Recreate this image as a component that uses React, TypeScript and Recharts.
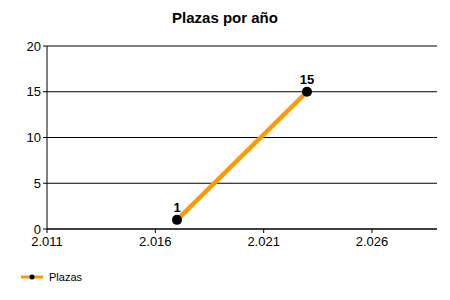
import { LineChart, Line, XAxis, YAxis, CartesianGrid, Legend, LabelList } from 'recharts';

const years = [2017, 2023];
const plazas = [1, 15];
const xTicks = [2011, 2016, 2021, 2026];
const yTicks = [0, 5, 10, 15, 20];
const seriesName = 'Plazas';
const title = 'Plazas por año';

const data = years.map((year, i) => ({ year, plazas: plazas[i] }));

const font = '"Liberation Sans", Arial, sans-serif';

// 2011 -> "2.011"
const fmtYear = (v: number) => {
  const s = String(v);
  return s.length > 3 ? s.slice(0, s.length - 3) + '.' + s.slice(-3) : s;
};

function LegendBox() {
  return (
    <div style={{ display: 'flex', alignItems: 'center', fontFamily: font, fontSize: 11, color: '#000', height: 18 }}>
      <svg width={24} height={10} style={{ marginRight: 4 }}>
        <line x1={0} y1={5} x2={22} y2={5} stroke="#FF9900" strokeWidth={3} />
        <circle cx={11} cy={5} r={2.5} fill="#000" />
      </svg>
      {seriesName}
    </div>
  );
}

export default function App() {
  return (
    <div style={{ position: 'absolute', left: 0, top: 0, width: 450, height: 300, background: '#fff' }}>
      <div
        style={{
          position: 'absolute', left: 0, top: 9, width: 450, textAlign: 'center',
          fontFamily: font, fontWeight: 'bold', fontSize: 15, color: '#000', lineHeight: '17px',
        }}
      >
        {title}
      </div>
      <LineChart width={450} height={300} data={data} margin={{ top: 46, right: 13, left: 0, bottom: 14 }}>
        <CartesianGrid vertical={false} stroke="#000" strokeWidth={1} />
        <XAxis
          dataKey="year"
          type="number"
          domain={[2011, 2029]}
          ticks={xTicks}
          tickFormatter={fmtYear}
          axisLine={{ stroke: '#000' }}
          tickLine={{ stroke: '#000' }}
          tickSize={4}
          tickMargin={4}
          tick={{ fontSize: 13, fill: '#000', fontFamily: font }}
          height={39}
        />
        <YAxis
          type="number"
          domain={[0, 20]}
          ticks={yTicks}
          axisLine={{ stroke: '#000' }}
          tickLine={{ stroke: '#000' }}
          tickSize={4}
          tick={{ fontSize: 13, fill: '#000', fontFamily: font }}
          width={47}
        />
        <Legend
          verticalAlign="bottom"
          align="left"
          content={() => <LegendBox />}
          wrapperStyle={{ left: 21 }}
        />
        <Line
          type="linear"
          dataKey="plazas"
          name={seriesName}
          stroke="#FF9900"
          strokeWidth={4.5}
          dot={{ r: 5, fill: '#000', stroke: '#000', strokeWidth: 0 }}
          activeDot={false}
          isAnimationActive={false}
        >
          <LabelList dataKey="plazas" position="top" offset={8} style={{ fontSize: 13, fontWeight: 'bold', fill: '#000', fontFamily: font }} />
        </Line>
      </LineChart>
    </div>
  );
}
